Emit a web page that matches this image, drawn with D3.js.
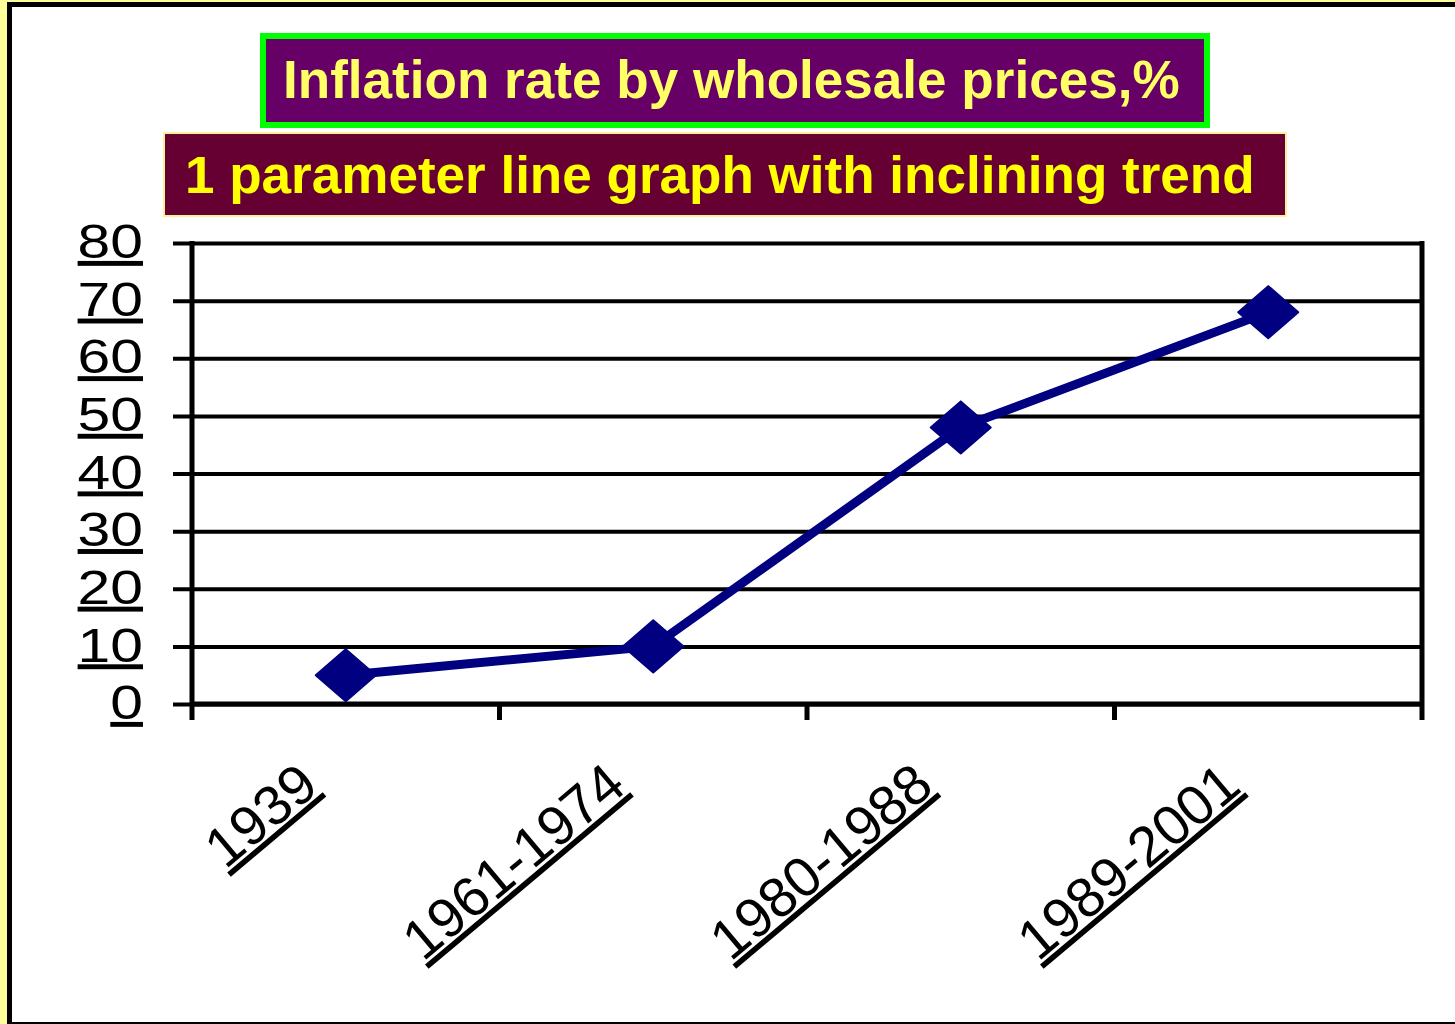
<!DOCTYPE html>
<html>
<head>
<meta charset="utf-8">
<script src="https://cdn.jsdelivr.net/npm/d3@7"></script>
<style>
  body { margin: 0; background: #fff; }
  text { font-family: "Liberation Sans", Arial, sans-serif; }
</style>
</head>
<body>
<div class="chart"></div>
<script>
var totalWidth = 1455;
var totalHeight = 1024;

// DATA
var categories = ["1939", "1961-1974", "1980-1988", "1989-2001"];
var inflation = [5, 10, 48, 68];
var yTicks = [0, 10, 20, 30, 40, 50, 60, 70, 80];
var titleText = "Inflation rate by wholesale prices,%";
var subtitleText = "1 parameter line graph with inclining trend";

var plot = { left: 192, right: 1422, top: 243, bottom: 704 };
var stretch = 1.2; // y labels in the source are wider than tall

var xScale = d3.scaleBand()
  .domain(categories)
  .range([plot.left, plot.right])
  .paddingInner(0)
  .paddingOuter(0);

var yScale = d3.scaleLinear()
  .domain([0, 80])
  .range([plot.bottom, plot.top]);

var svg = d3.select(".chart")
  .append("svg")
  .attr("width", totalWidth)
  .attr("height", totalHeight);

// frame: yellow strip + black border
svg.append("rect").attr("x", 0).attr("y", 0).attr("width", totalWidth).attr("height", totalHeight).attr("fill", "#ffff99");
svg.append("rect").attr("x", 7).attr("y", 2).attr("width", totalWidth - 7).attr("height", totalHeight - 2).attr("fill", "#000");
svg.append("rect").attr("x", 12).attr("y", 7).attr("width", totalWidth - 12).attr("height", totalHeight - 9).attr("fill", "#fff");

// TITLE BOXES
function fitText(sel, x, y, target) {
  var w = sel.node().getComputedTextLength();
  sel.attr("transform", "translate(" + x + "," + y + ") scale(" + (target / w) + ",1)");
}

svg.append("rect")
  .attr("x", 263).attr("y", 36).attr("width", 944).attr("height", 89)
  .attr("fill", "#660066").attr("stroke", "#00ff00").attr("stroke-width", 6);
var t1 = svg.append("text")
  .attr("font-size", 54).attr("font-weight", "bold")
  .attr("fill", "#ffff66")
  .text(titleText);
fitText(t1, 283, 98, 897);

svg.append("rect")
  .attr("x", 164).attr("y", 133).attr("width", 1122).attr("height", 83)
  .attr("fill", "#660033").attr("stroke", "#ffee99").attr("stroke-width", 2);
var t2 = svg.append("text")
  .attr("font-size", 51).attr("font-weight", "bold")
  .attr("fill", "#ffff00")
  .text(subtitleText);
fitText(t2, 185, 193, 1070);

// Y AXIS + GRID
var yAxis = d3.axisLeft(yScale)
  .tickValues(yTicks)
  .tickSizeInner(-(plot.right - plot.left))
  .tickSizeOuter(0);

svg.append("g")
  .attr("transform", "translate(" + plot.left + ",0)")
  .call(yAxis)
  .call(function(g) {
    g.select(".domain").remove();
    g.selectAll(".tick line")
      .attr("x1", -19)
      .attr("x2", plot.right - plot.left)
      .attr("stroke", "#000")
      .attr("stroke-width", 4);
    g.selectAll(".tick text")
      .attr("x", 0)
      .attr("dy", "0.3em")
      .attr("transform", "translate(-49,0) scale(" + stretch + ",1)")
      .attr("font-size", 49)
      .attr("fill", "#000")
      .style("text-decoration", "underline");
  });

// X AXIS
var xEdges = categories.map(function(c) { return xScale(c); }).concat([plot.right]);

svg.append("line")
  .attr("x1", plot.left).attr("x2", plot.right)
  .attr("y1", plot.bottom).attr("y2", plot.bottom)
  .attr("stroke", "#000").attr("stroke-width", 5);

svg.selectAll(".xtick")
  .data(xEdges)
  .enter()
  .append("line")
  .attr("class", "xtick")
  .attr("x1", function(d) { return d; })
  .attr("x2", function(d) { return d; })
  .attr("y1", function(d, i) { return (i == 0 || i == xEdges.length - 1) ? plot.top - 2 : plot.bottom; })
  .attr("y2", 720)
  .attr("stroke", "#000")
  .attr("stroke-width", 5);

svg.selectAll(".xlabel")
  .data(categories)
  .enter()
  .append("text")
  .attr("class", "xlabel")
  .attr("transform", function(d) {
    var cx = xScale(d) + xScale.bandwidth() / 2 - 25;
    return "translate(" + cx + ",790) rotate(-40)";
  })
  .attr("text-anchor", "end")
  .attr("font-size", 56)
  .attr("fill", "#000")
  .style("text-decoration", "underline")
  .text(function(d) { return d; });

// LINE
var points = categories.map(function(c, i) {
  return { cat: c, value: inflation[i] };
});

var line = d3.line()
  .x(function(d) { return xScale(d.cat) + xScale.bandwidth() / 2; })
  .y(function(d) { return yScale(d.value); });

svg.append("path")
  .datum(points)
  .attr("d", line)
  .attr("fill", "none")
  .attr("stroke", "#000080")
  .attr("stroke-width", 9)
  .attr("stroke-linejoin", "round");

svg.selectAll(".marker")
  .data(points)
  .enter()
  .append("path")
  .attr("class", "marker")
  .attr("transform", function(d) {
    return "translate(" + (xScale(d.cat) + xScale.bandwidth() / 2) + "," + yScale(d.value) + ")";
  })
  .attr("d", "M0,-26L30,0L0,26L-30,0Z")
  .attr("fill", "#000080")
  .attr("stroke", "#000080")
  .attr("stroke-width", 2)
  .attr("stroke-linejoin", "round");
</script>
</body>
</html>
